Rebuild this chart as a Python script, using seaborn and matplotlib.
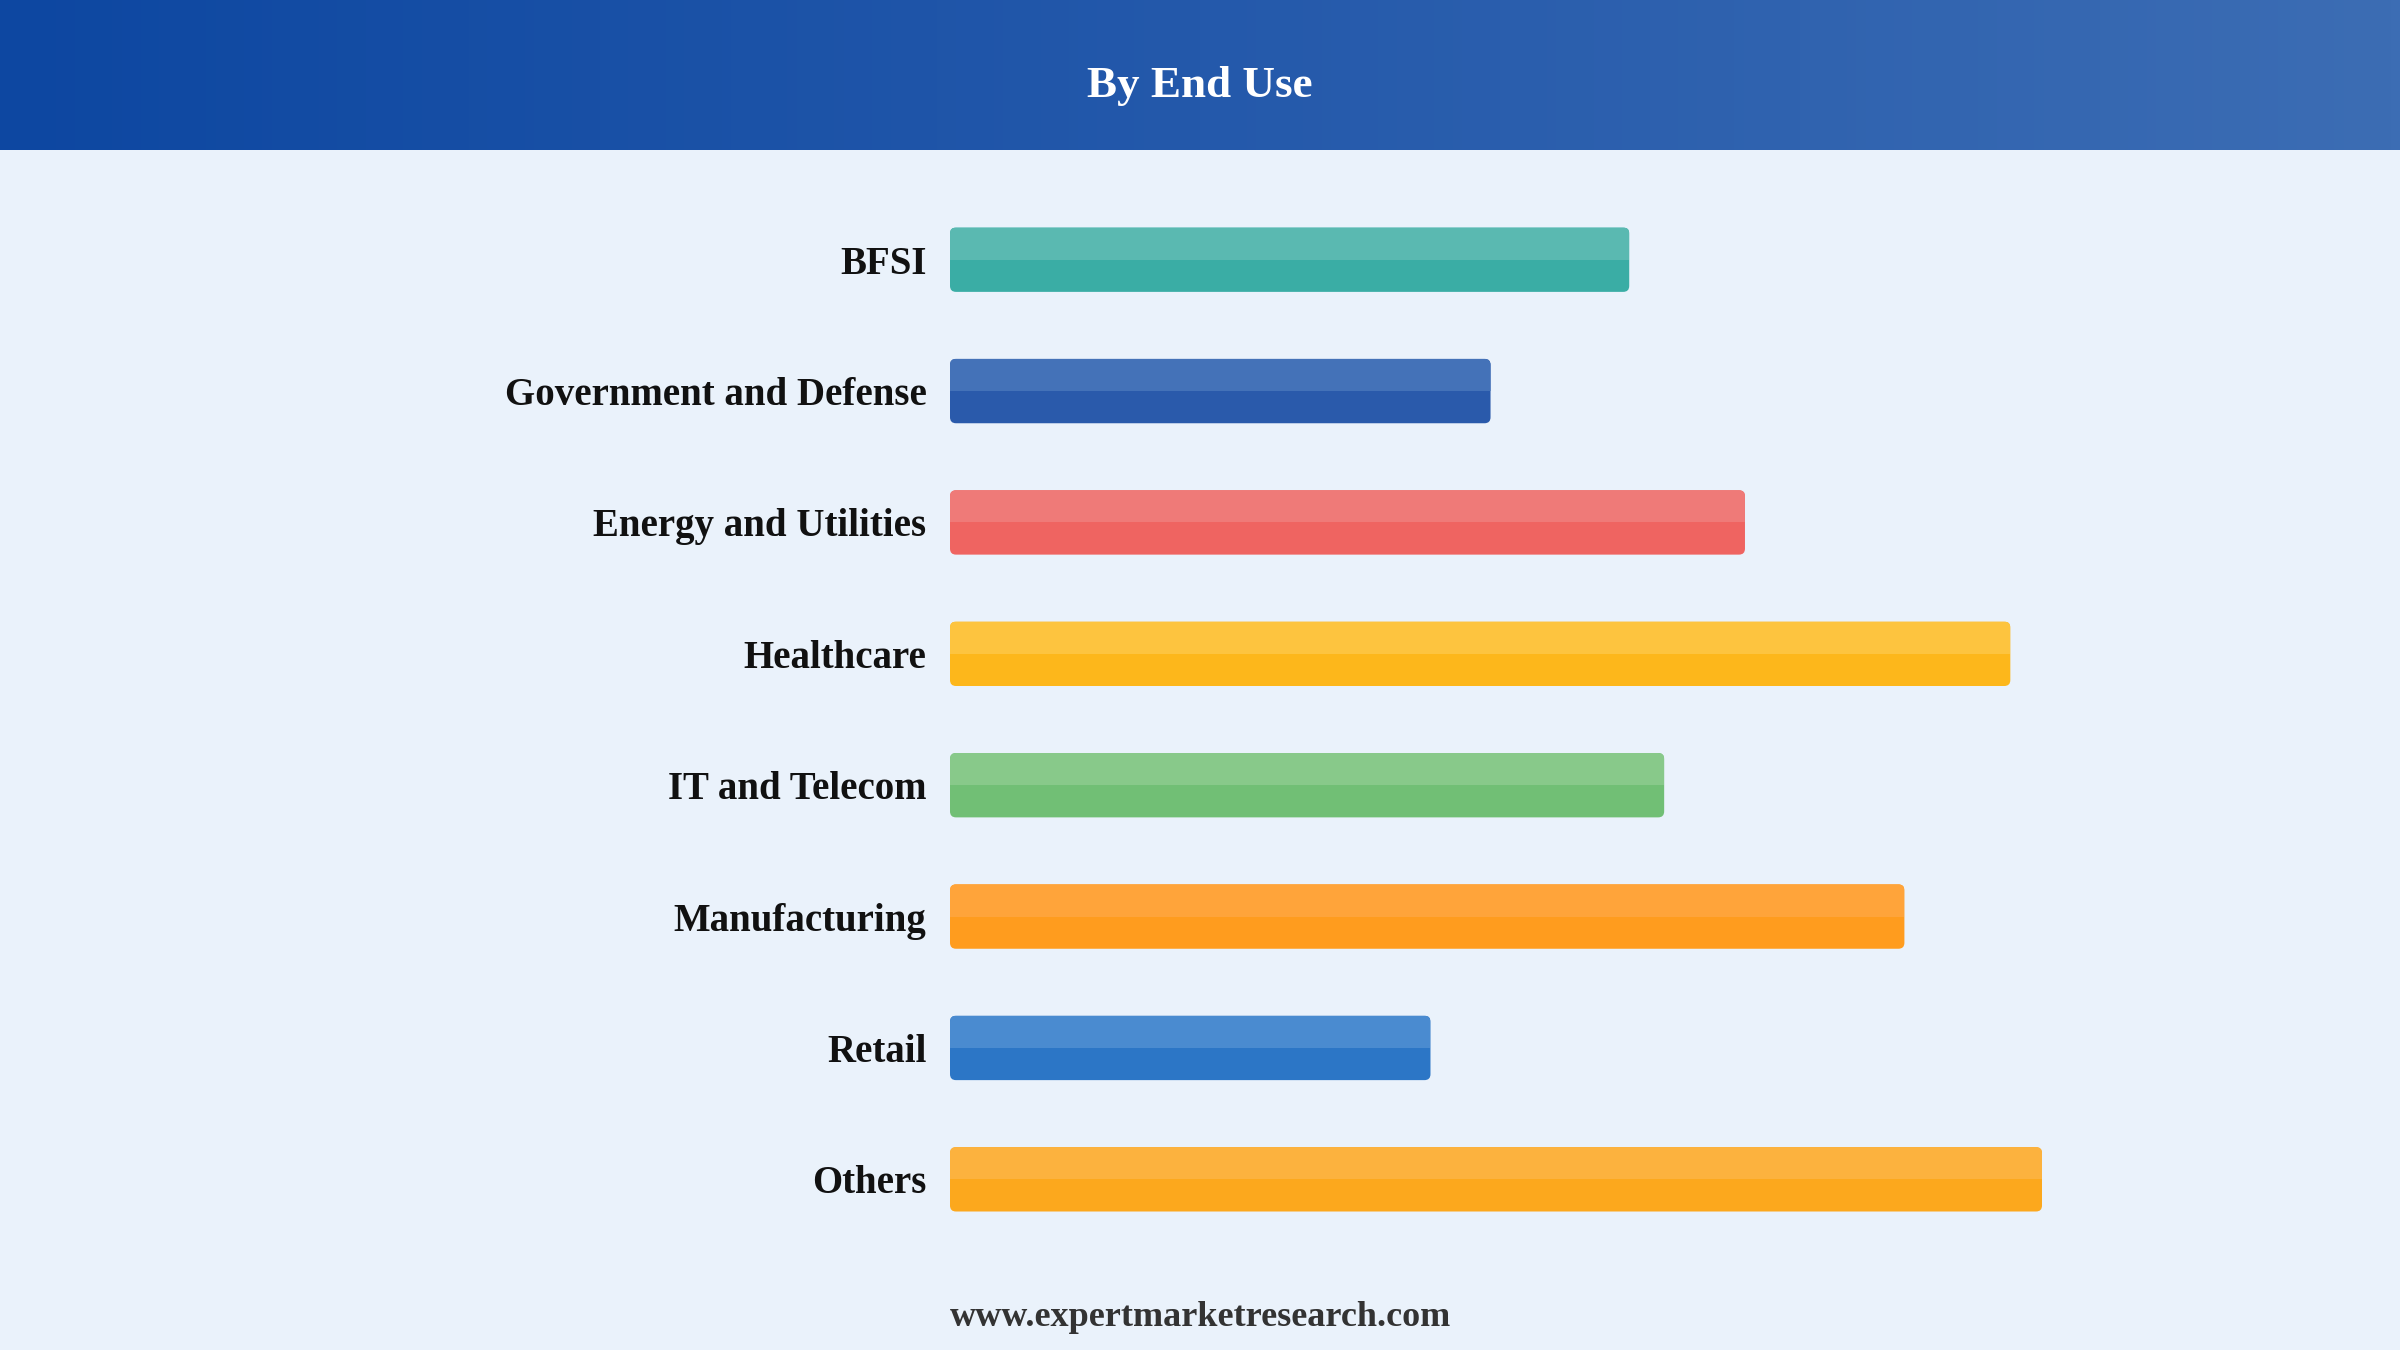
import numpy as np
import pandas as pd
import matplotlib
matplotlib.use('Agg')
import matplotlib.pyplot as plt
import seaborn as sns
from matplotlib.patches import FancyBboxPatch, Rectangle
from matplotlib.colors import LinearSegmentedColormap

# data (relative bar lengths, Others = 100)
categories = ['BFSI', 'Government and Defense', 'Energy and Utilities', 'Healthcare',
              'IT and Telecom', 'Manufacturing', 'Retail', 'Others']
values = [62.2, 49.5, 72.8, 97.1, 65.4, 87.4, 44.0, 100.0]
base_colors = ['#3aada5', '#2a5aab', '#ef6461', '#fdb71b', '#71bf75', '#ff9c1e', '#2c76c6', '#fca81d']
light_colors = ['#5ab9b1', '#4472b8', '#ef7a78', '#fdc43f', '#88c98a', '#ffa43a', '#4a8bd0', '#fcb23e']

title = 'By End Use'
footer = 'www.expertmarketresearch.com'

sns.set_theme(style='white')
plt.rcParams['font.family'] = ['Liberation Serif', 'DejaVu Serif']

W, H = 2400, 1350
fig = plt.figure(figsize=(24, 13.5), dpi=100)
fig.patch.set_facecolor('#eaf2fb')

# header band with horizontal gradient
hax = fig.add_axes([0, 1 - 150 / H, 1, 150 / H])
grad = np.linspace(0, 1, 256).reshape(1, -1)
cmap = LinearSegmentedColormap.from_list('hdr', ['#0d47a1', '#2459ab', '#3c6db4'])
hax.imshow(grad, aspect='auto', cmap=cmap, extent=[0, 1, 0, 1])
hax.axis('off')
fig.text(0.5, 1 - 86 / H, title, ha='center', va='center', fontsize=32.5,
         fontweight='bold', color='white')

# bars
ax_left, ax_w = 950, 1300
ax_top, ax_bot = 194, 1245
ax = fig.add_axes([ax_left / W, 1 - ax_bot / H, ax_w / W, (ax_bot - ax_top) / H])
ax.set_facecolor('none')

df = pd.DataFrame({'segment': categories, 'value': values})
sns.barplot(data=df, x='value', y='segment', hue='segment', palette=base_colors,
            saturation=1, orient='h', width=0.49, legend=False, ax=ax)

xmax = 100 * ax_w / 1092
ax.set_xlim(0, xmax)
ax.set_ylim(len(categories) - 0.5, -0.5)

px_x = ax_w / xmax
px_y = (ax_bot - ax_top) / len(categories)
radius = 6  # px

for i, p in enumerate(list(ax.patches)):
    x, y, w, h = p.get_x(), p.get_y(), p.get_width(), p.get_height()
    col = p.get_facecolor()
    p.remove()
    body = FancyBboxPatch((x, y), w, h,
                          boxstyle=f'round,pad=0,rounding_size={radius / px_x}',
                          mutation_aspect=px_x / px_y,
                          facecolor=col, edgecolor='none', zorder=2)
    ax.add_patch(body)
    top = Rectangle((x, y), w, h / 2, facecolor=light_colors[i], edgecolor='none', zorder=3)
    ax.add_patch(top)
    top.set_clip_path(body)

ax.set_xlabel('')
ax.set_ylabel('')
ax.set_xticks([])
ax.tick_params(axis='y', length=0, pad=17)
for lbl in ax.get_yticklabels():
    lbl.set_fontsize(28)
    lbl.set_fontweight('bold')
    lbl.set_color('#111111')
sns.despine(ax=ax, left=True, bottom=True)

fig.text(0.5, 1 - 1318 / H, footer, ha='center', va='center', fontsize=26,
         fontweight='bold', color='#333333')

fig.savefig('out.png', dpi=100, facecolor=fig.get_facecolor())
